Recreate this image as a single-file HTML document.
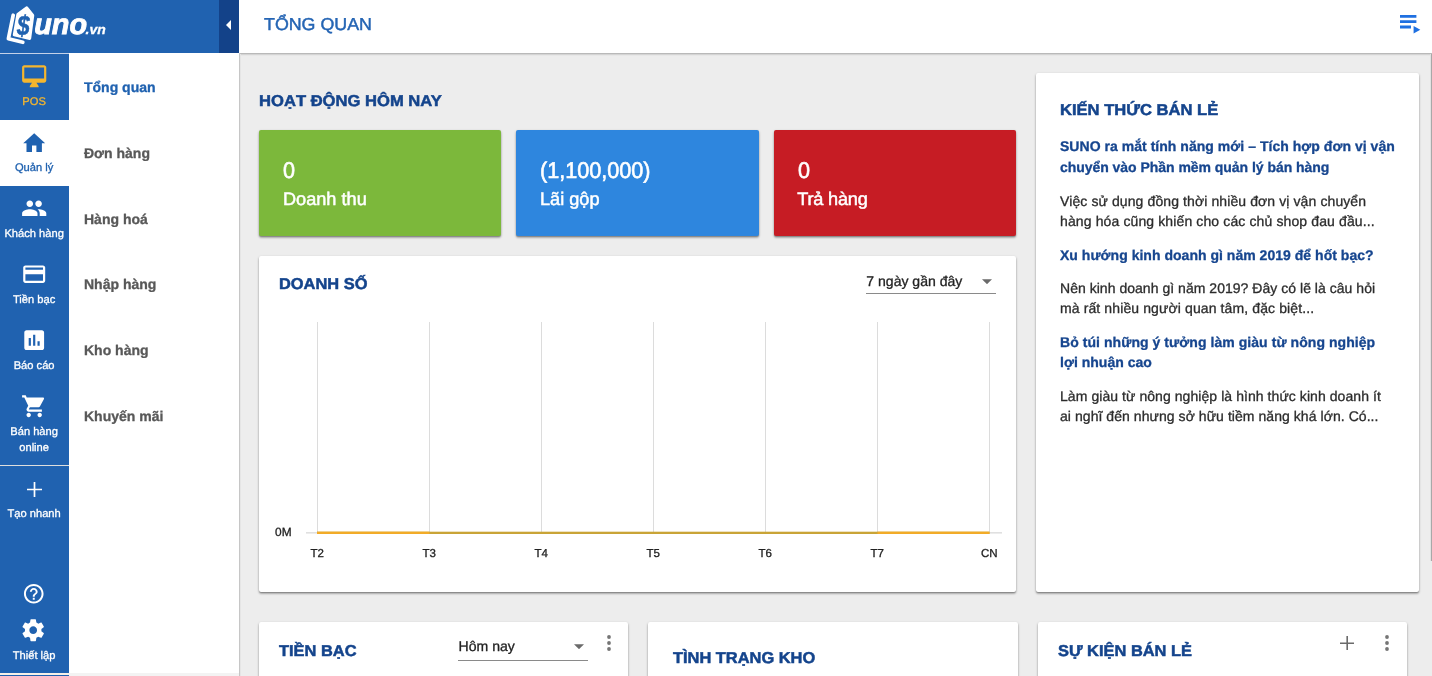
<!DOCTYPE html>
<html lang="vi">
<head>
<meta charset="utf-8">
<title>SUNO.vn - Tổng quan</title>
<style>
*{box-sizing:border-box;margin:0;padding:0}
html,body{width:1432px;height:676px;overflow:hidden}
body{text-rendering:geometricPrecision;-webkit-text-stroke:0.3px currentColor;position:relative;background:#ededed;font-family:"Liberation Sans",sans-serif;color:#333;-webkit-font-smoothing:antialiased}
.abs{position:absolute}
/* top bar */
#logo{left:0;top:0;width:219px;height:53px;background:#2062b0}
#toggle{left:219px;top:0;width:20px;height:53px;background:#134289}
#logo-line{z-index:5;left:0;top:53px;width:69px;height:1px;background:#c3d1e8}
#topbar{left:239px;top:0;width:1213px;height:53px;background:#fff;box-shadow:0 1px 2px rgba(0,0,0,.32)}
#title{left:264px;top:13.2px;font-size:17.3px;transform:scaleX(1.031);transform-origin:0 50%;-webkit-text-stroke:.45px currentColor;line-height:22px;color:#2565b4;white-space:nowrap}
/* rail */
#rail{left:0;top:53px;width:69px;height:623px;background:#2062b0}
.cell{position:absolute;left:0;width:69px;text-align:center;color:#fff;font-size:11.15px;line-height:16px;-webkit-text-stroke:0.3px currentColor}
.cell svg{position:absolute;left:20.8px;width:26.4px;height:26.4px;fill:currentColor}
.cell span{position:absolute;left:-0.4px;width:69px;white-space:nowrap}
#sub{left:69px;top:53px;width:170px;height:623px;background:#fff}
#subshadow{left:239px;top:54px;width:2px;height:622px;background:linear-gradient(90deg,#c6c6c6 0,#c6c6c6 50%,#e5e5e5 50%,#e5e5e5 100%)}
.mi{position:absolute;left:84px;font-size:14px;font-weight:bold;color:#585858;white-space:nowrap;line-height:18px}
/* cards */
.card{position:absolute;background:#fff;border-radius:2px;box-shadow:0 1px 3px rgba(0,0,0,.2),0 1px 1px rgba(0,0,0,.2),0 2px 2px rgba(0,0,0,.18)}
.stat{position:absolute;top:130px;height:106px;border-radius:2px;color:#fff;box-shadow:0 1px 3px rgba(0,0,0,.2),0 1px 1px rgba(0,0,0,.2),0 2px 2px rgba(0,0,0,.18)}
.stat .n{position:absolute;left:24px;top:27px;font-size:22.7px;transform:scaleX(.952);transform-origin:0 50%;-webkit-text-stroke:.6px currentColor;line-height:26px;white-space:nowrap}
.stat .l{position:absolute;left:24px;top:58px;font-size:18.15px;-webkit-text-stroke:.5px currentColor;line-height:22px;white-space:nowrap}
.h{-webkit-text-stroke:.5px currentColor;position:absolute;font-size:15.7px;transform:scaleX(1.046);transform-origin:0 50%;font-weight:bold;color:#14448c;white-space:nowrap;line-height:20px}
.lk{position:absolute;left:1060px;font-size:14px;font-weight:bold;color:#17468f;white-space:nowrap;line-height:20px}
.p{position:absolute;left:1060px;font-size:14px;color:#2c2c2c;white-space:nowrap;line-height:20px}
.sel{position:absolute;font-size:14.05px;color:#222;white-space:nowrap;line-height:18px}
.ul{position:absolute;height:1px;background:#8a8a8a}
.ax{position:absolute;font-size:11.5px;color:#222;line-height:14px;white-space:nowrap;width:40px;text-align:center}
</style>
</head>
<body>
<!-- top bar -->
<div id="topbar" class="abs"></div>
<div id="logo" class="abs"></div>
<div id="toggle" class="abs"><svg class="abs" style="left:-2px;top:12.9px" width="24" height="24" viewBox="0 0 24 24"><path d="M14 7l-5 5 5 5V7z" fill="#fff"/></svg></div>
<div id="logo-line" class="abs"></div>
<svg class="abs" style="left:0;top:0" width="120" height="52" viewBox="0 0 120 52">
<path d="M13.2 15.2 L8.4 38.7 L22.8 42.3" fill="none" stroke="#fff" stroke-width="3.7" stroke-linecap="round" stroke-linejoin="round"/>
<path d="M17.2 13 L26 6.5 Q27 5.8 27.8 6.8 L33.8 14.2 Q34.4 15 34.2 16 L31.2 38.6 Q30.9 40.2 29.4 39.9 L13.9 36.3 Q12.5 35.9 12.8 34.5 L16.3 14.4 Q16.5 13.5 17.2 13Z" fill="#fff"/>
<text transform="translate(17 35.1) scale(0.93 1.13)" font-family="Liberation Sans, sans-serif" font-weight="bold" font-style="italic" font-size="24.5" fill="#2062b0" stroke="#2062b0" stroke-width="0.5">$</text>
<text transform="translate(34.2 34.4) scale(1 1.01)" font-family="Liberation Sans, sans-serif" font-weight="bold" font-style="italic" font-size="28.8" fill="#fff" stroke="#fff" stroke-width="0.9">uno</text>
<text transform="translate(85.6 34.4) scale(1.04 1)" font-family="Liberation Sans, sans-serif" font-weight="bold" font-style="italic" font-size="13.4" fill="#fff" stroke="#fff" stroke-width="0.3">.vn</text>
</svg>
<div id="title" class="abs">TỔNG QUAN</div>
<svg class="abs" style="left:1396px;top:10px" width="28" height="28" viewBox="1396 10 28 28"><path d="M1400 15h16.4v2.8H1400zM1400 20.2h16.4v2.8H1400zM1400 25.6h11v2.8h-11zM1413.6 25.9v7.6l6.7-3.8z" fill="#1f70e1"/></svg>

<!-- rail -->
<div id="rail" class="abs"></div>
<div id="sub" class="abs"></div>
<div id="subshadow" class="abs"></div>

<div class="cell" style="top:53.7px;height:66px;color:#f5b62e"><svg viewBox="0 0 24 24" style="top:9.8px"><path d="M21 2H3c-1.1 0-2 .9-2 2v12c0 1.1.9 2 2 2h7l-2 3v1h8v-1l-2-3h7c1.1 0 2-.9 2-2V4c0-1.1-.9-2-2-2zm0 12H3V4h18v10z"/></svg><span style="top:40px">POS</span></div>
<div class="cell" style="top:119.75px;height:66.3px;background:#fff;color:#2062b0"><svg viewBox="0 0 24 24" style="top:9.8px"><path d="M10 20v-6h4v6h5v-8h3L12 3 2 12h3v8z"/></svg><span style="top:40px">Quản lý</span></div>
<div class="cell" style="top:185.7px;height:66px;"><svg viewBox="0 0 24 24" style="top:9.8px"><path d="M16 11c1.66 0 2.99-1.34 2.99-3S17.66 5 16 5c-1.66 0-3 1.34-3 3s1.34 3 3 3zm-8 0c1.66 0 2.99-1.34 2.99-3S9.66 5 8 5C6.34 5 5 6.34 5 8s1.34 3 3 3zm0 2c-2.33 0-7 1.17-7 3.5V19h14v-2.5c0-2.33-4.67-3.5-7-3.5zm8 0c-.29 0-.62.02-.97.05 1.16.84 1.97 1.97 1.97 3.45V19h6v-2.5c0-2.33-4.67-3.5-7-3.5z"/></svg><span style="top:40px">Khách hàng</span></div>
<div class="cell" style="top:251.7px;height:66px;"><svg viewBox="0 0 24 24" style="top:9.8px"><path d="M20 4H4c-1.11 0-1.99.89-1.99 2L2 18c0 1.11.89 2 2 2h16c1.11 0 2-.89 2-2V6c0-1.11-.89-2-2-2zm0 14H4v-6h16v6zm0-10H4V6h16v2z"/></svg><span style="top:40px">Tiền bạc</span></div>
<div class="cell" style="top:317.7px;height:66px;"><svg viewBox="0 0 24 24" style="top:9.8px"><path d="M19 3H5c-1.1 0-2 .9-2 2v14c0 1.1.9 2 2 2h14c1.1 0 2-.9 2-2V5c0-1.1-.9-2-2-2zM9 17H7v-7h2v7zm4 0h-2V7h2v10zm4 0h-2v-4h2v4z"/></svg><span style="top:40px">Báo cáo</span></div>
<div class="cell" style="top:383.7px;height:82px"><svg viewBox="0 0 24 24" style="top:9.8px"><path d="M7 18c-1.1 0-1.99.9-1.99 2S5.9 22 7 22s2-.9 2-2-.9-2-2-2zM1 2v2h2l3.6 7.59-1.35 2.45c-.16.28-.25.61-.25.96 0 1.1.9 2 2 2h12v-2H7.42c-.14 0-.25-.11-.25-.25l.03-.12.9-1.63h7.45c.75 0 1.41-.41 1.75-1.03l3.58-6.49c.08-.14.12-.31.12-.48 0-.55-.45-1-1-1H5.21l-.94-2H1zm16 16c-1.1 0-1.99.9-1.99 2s.89 2 1.99 2 2-.9 2-2-.9-2-2-2z"/></svg><span style="top:40px">Bán hàng</span><span style="top:56px">online</span></div>
<div class="abs" style="left:0;top:465px;width:69px;height:1.2px;background:#dedede"></div>
<div class="cell" style="top:466px;height:66px"><svg viewBox="0 0 15 15" style="left:26.8px;top:15.8px;width:15px;height:15px"><path d="M6.65 0h1.7v6.65H15v1.7H8.35V15h-1.7V8.350H0v-1.7h6.65z"/></svg><span style="top:40px">Tạo nhanh</span></div>
<div class="cell" style="top:570px;height:40px"><svg viewBox="0 0 24 24" style="top:12.35px;left:22.05px;width:23.5px;height:23.5px"><path d="M11 18h2v-2h-2v2zm1-16C6.48 2 2 6.48 2 12s4.48 10 10 10 10-4.48 10-10S17.52 2 12 2zm0 18c-4.41 0-8-3.59-8-8s3.59-8 8-8 8 3.59 8 8-3.59 8-8 8zm0-14c-2.21 0-4 1.79-4 4h2c0-1.1.9-2 2-2s2 .9 2 2c0 2-3 1.75-3 5h2c0-2.25 3-2.5 3-5 0-2.21-1.79-4-4-4z"/></svg></div>
<div class="cell" style="top:608px;height:64px"><svg viewBox="0 0 24 24" style="top:8.6px;left:20.4px"><path d="M19.43 12.98c.04-.32.07-.64.07-.98s-.03-.66-.07-.98l2.11-1.65c.19-.15.24-.42.12-.64l-2-3.46c-.12-.22-.39-.3-.61-.22l-2.49 1c-.52-.4-1.08-.73-1.69-.98l-.38-2.65C14.46 2.18 14.25 2 14 2h-4c-.25 0-.46.18-.49.42l-.38 2.65c-.61.25-1.17.59-1.69.98l-2.49-1c-.23-.09-.49 0-.61.22l-2 3.46c-.13.22-.07.49.12.64l2.11 1.65c-.04.32-.07.65-.07.98s.03.66.07.98l-2.11 1.65c-.19.15-.24.42-.12.64l2 3.46c.12.22.39.3.61.22l2.49-1c.52.4 1.08.73 1.69.98l.38 2.65c.03.24.24.42.49.42h4c.25 0 .46-.18.49-.42l.38-2.65c.61-.25 1.17-.59 1.69-.98l2.49 1c.23.09.49 0 .61-.22l2-3.46c.12-.22.07-.49-.12-.64l-2.11-1.65zM12 15.5c-1.93 0-3.5-1.57-3.5-3.5s1.57-3.5 3.5-3.5 3.5 1.57 3.5 3.5-1.57 3.5-3.5 3.5z"/></svg><span style="top:40px">Thiết lập</span></div>
<div class="abs" style="left:0;top:672.8px;width:69px;height:2px;background:#f5f0e8"></div><div class="abs" style="left:69px;top:672.8px;width:170px;height:4px;background:#f3f3f3"></div>
<div class="mi" style="top:78.0px;color:#2062b0">Tổng quan</div>
<div class="mi" style="top:143.8px">Đơn hàng</div>
<div class="mi" style="top:209.6px">Hàng hoá</div>
<div class="mi" style="top:275.4px">Nhập hàng</div>
<div class="mi" style="top:341.2px">Kho hàng</div>
<div class="mi" style="top:407.0px">Khuyến mãi</div>

<div class="abs" style="left:1430px;top:54px;width:2px;height:507px;background:linear-gradient(90deg,#e2e2e2 0,#e2e2e2 50%,#a8a8a8 50%,#a8a8a8 100%)"></div>
<!-- main -->
<div class="h" style="left:259.4px;top:92.3px;transform:scaleX(1.058)">HOẠT ĐỘNG HÔM NAY</div>
<div class="stat" style="left:259px;width:242px;background:#7cb83b"><div class="n">0</div><div class="l">Doanh thu</div></div>
<div class="stat" style="left:516px;width:243px;background:#2e86de"><div class="n">(1,100,000)</div><div class="l">Lãi gộp</div></div>
<div class="stat" style="left:774px;width:242px;background:#c61c24"><div class="n">0</div><div class="l" style="left:23.3px;letter-spacing:-.2px">Trả hàng</div></div>

<div class="card" style="left:259px;top:256px;width:757px;height:336px"></div>
<div class="h" style="left:279.4px;top:274.5px">DOANH SỐ</div>

<div class="card" style="left:1036px;top:73px;width:383px;height:519px"></div>
<div class="h" style="left:1060px;top:101.2px;transform:scaleX(1.056)">KIẾN THỨC BÁN LẺ</div>

<div class="card" style="left:259px;top:622px;width:369px;height:70px"></div>
<div class="card" style="left:648px;top:622px;width:370px;height:70px"></div>
<div class="card" style="left:1038px;top:622px;width:369px;height:70px"></div>
<div class="h" style="left:279px;top:641.8px">TIỀN BẠC</div>
<div class="h" style="left:673px;top:649.3px">TÌNH TRẠNG KHO</div>
<div class="h" style="left:1058.2px;top:642px">SỰ KIỆN BÁN LẺ</div>
<div class="lk" style="top:136px;letter-spacing:0.033px">SUNO ra mắt tính năng mới – Tích hợp đơn vị vận</div>
<div class="lk" style="top:157px;letter-spacing:-0.040px">chuyển vào Phần mềm quản lý bán hàng</div>
<div class="p" style="top:191px;letter-spacing:0.102px">Việc sử dụng đồng thời nhiều đơn vị vận chuyển</div>
<div class="p" style="top:211px;letter-spacing:0.122px">hàng hóa cũng khiến cho các chủ shop đau đầu...</div>
<div class="lk" style="top:245px;letter-spacing:0.024px">Xu hướng kinh doanh gì năm 2019 để hốt bạc?</div>
<div class="p" style="top:278px;letter-spacing:0.030px">Nên kinh doanh gì năm 2019? Đây có lẽ là câu hỏi</div>
<div class="p" style="top:298px;letter-spacing:0.113px">mà rất nhiều người quan tâm, đặc biệt...</div>
<div class="lk" style="top:332px;letter-spacing:0.060px">Bỏ túi những ý tưởng làm giàu từ nông nghiệp</div>
<div class="lk" style="top:352px;letter-spacing:0.017px">lợi nhuận cao</div>
<div class="p" style="top:386px;letter-spacing:0.065px">Làm giàu từ nông nghiệp là hình thức kinh doanh ít</div>
<div class="p" style="top:406px;letter-spacing:0.056px">ai nghĩ đến nhưng sở hữu tiềm năng khá lớn. Có...</div>
<svg class="abs" style="left:259px;top:256px" width="757" height="336" viewBox="259 256 757 336"><rect x="317.0" y="322" width="1" height="211" fill="#dcdcdc"/><rect x="429.0" y="322" width="1" height="211" fill="#dcdcdc"/><rect x="541.0" y="322" width="1" height="211" fill="#dcdcdc"/><rect x="653.0" y="322" width="1" height="211" fill="#dcdcdc"/><rect x="765.0" y="322" width="1" height="211" fill="#dcdcdc"/><rect x="877.0" y="322" width="1" height="211" fill="#dcdcdc"/><rect x="989.0" y="322" width="1" height="211" fill="#dcdcdc"/><rect x="306" y="532" width="696" height="1.6" fill="#e0e0e0"/><rect x="317" y="531.7" width="672.5" height="2.3" fill="#c9a436"/><rect x="317" y="531.7" width="112.5" height="2.3" fill="#f2ab27"/><rect x="877.5" y="531.7" width="112" height="2.3" fill="#f2ab27"/></svg>
<div class="ax" style="left:297.2px;top:546.7px">T2</div>
<div class="ax" style="left:409.2px;top:546.7px">T3</div>
<div class="ax" style="left:521.2px;top:546.7px">T4</div>
<div class="ax" style="left:633.2px;top:546.7px">T5</div>
<div class="ax" style="left:745.2px;top:546.7px">T6</div>
<div class="ax" style="left:857.2px;top:546.7px">T7</div>
<div class="ax" style="left:969.2px;top:546.7px">CN</div>
<div class="ax" style="left:263.3px;top:525.4px;font-size:11.9px">0M</div>
<div class="sel" style="left:866.3px;top:272.2px">7 ngày gần đây</div>
<div class="ul" style="left:866px;top:293px;width:130px"></div>
<svg class="abs" style="left:982px;top:279px" width="10" height="5.4" viewBox="0 0 10 5"><path d="M0 0h10L5 5z" fill="#6a6a6a"/></svg>
<div class="sel" style="left:458.6px;top:636.8px">Hôm nay</div>
<div class="ul" style="left:458px;top:660px;width:130px"></div>
<svg class="abs" style="left:573.5px;top:644px" width="10" height="5.4" viewBox="0 0 10 5"><path d="M0 0h10L5 5z" fill="#6a6a6a"/></svg>
<svg class="abs" style="left:605.5px;top:634px" width="6" height="18" viewBox="0 0 6 18"><circle cx="3" cy="3" r="1.9" fill="#757575"/><circle cx="3" cy="9" r="1.9" fill="#757575"/><circle cx="3" cy="15" r="1.9" fill="#757575"/></svg>
<svg class="abs" style="left:1384px;top:634px" width="6" height="18" viewBox="0 0 6 18"><circle cx="3" cy="3" r="1.9" fill="#757575"/><circle cx="3" cy="9" r="1.9" fill="#757575"/><circle cx="3" cy="15" r="1.9" fill="#757575"/></svg>
<svg class="abs" style="left:1340px;top:636px" width="14.4" height="14.4" viewBox="0 0 14.4 14.4"><path d="M6.4 0h1.6v6.4h6.4v1.6H8v6.4H6.4V8H0V6.4h6.4z" fill="#6b6b6b"/></svg>
</body>
</html>
